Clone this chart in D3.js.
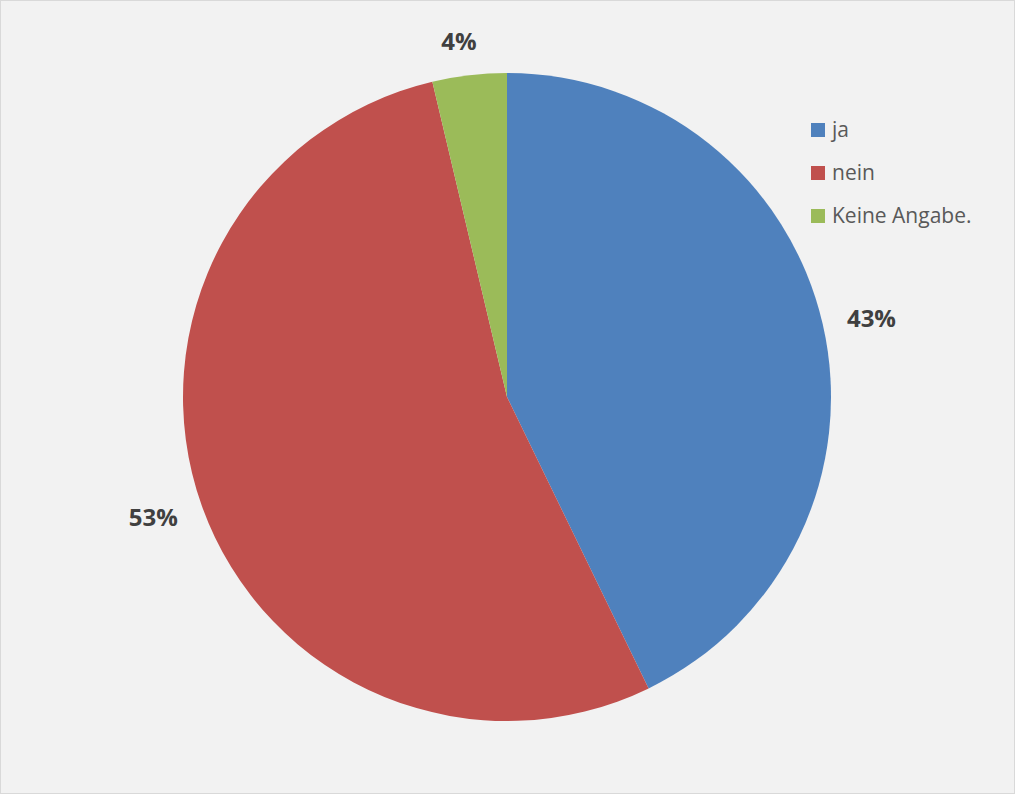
<!DOCTYPE html>
<html>
<head>
<meta charset="utf-8">
<script src="https://cdn.jsdelivr.net/npm/d3@7"></script>
<style>
  html, body { margin: 0; padding: 0; background: #f2f2f2; }
  svg { display: block; }
</style>
</head>
<body>
<div id="chart"></div>
<script>
const categories = ['ja', 'nein', 'Keine Angabe.'];
const values = [42.8, 53.5, 3.7];
const pctLabels = ['43%', '53%', '4%'];
const colors = ['#4f81bd', '#c0504d', '#9bbb59'];

const width = 1015;
const height = 794;
const cx = 507;
const cy = 397;
const radius = 324;

const svg = d3.select('#chart').append('svg')
  .attr('width', width)
  .attr('height', height);

svg.append('rect')
  .attr('x', 0.5)
  .attr('y', 0.5)
  .attr('width', width - 1)
  .attr('height', height - 1)
  .attr('fill', '#f2f2f2')
  .attr('stroke', '#d9d9d9');

const pie = d3.pie().sort(null).value(d => d);
const arcs = pie(values);
const arc = d3.arc().innerRadius(0).outerRadius(radius);

const g = svg.append('g')
  .attr('transform', `translate(${cx},${cy})`);

g.selectAll('path')
  .data(arcs)
  .enter().append('path')
  .attr('d', arc)
  .attr('fill', (d, i) => colors[i]);

// data labels outside the pie, nudged per slice like the original
const LABEL_OFFSETS = [
  { r: 375, x: -1, y: 6 },
  { r: 367, x: -8, y: -3 },
  { r: 362, x: -6, y: 4 },
];
g.selectAll('text.pct')
  .data(arcs)
  .enter().append('text')
  .attr('class', 'pct')
  .attr('transform', (d, i) => {
    const a = (d.startAngle + d.endAngle) / 2;
    const o = LABEL_OFFSETS[i];
    return `translate(${Math.sin(a) * o.r + o.x},${-Math.cos(a) * o.r + o.y})`;
  })
  .attr('text-anchor', 'middle')
  .attr('dy', '0.35em')
  .attr('style', 'font-family: \'Open Sans\', Arial, sans-serif; font-size: 24px; font-weight: 700')
  .attr('fill', '#404040')
  .text((d, i) => pctLabels[i]);

const legend = svg.append('g')
  .attr('class', 'legend')
  .attr('transform', 'translate(811, 123)');

const rows = legend.selectAll('g')
  .data(categories)
  .enter().append('g')
  .attr('transform', (d, i) => `translate(0, ${i * 43})`);

rows.append('rect')
  .attr('width', 14)
  .attr('height', 14)
  .attr('fill', (d, i) => colors[i]);

rows.append('text')
  .attr('x', 21)
  .attr('y', 7)
  .attr('dy', '0.35em')
  .attr('style', 'font-family: \'Open Sans\', Arial, sans-serif; font-size: 21px')
  .attr('fill', '#595959')
  .text(d => d);
</script>
</body>
</html>
